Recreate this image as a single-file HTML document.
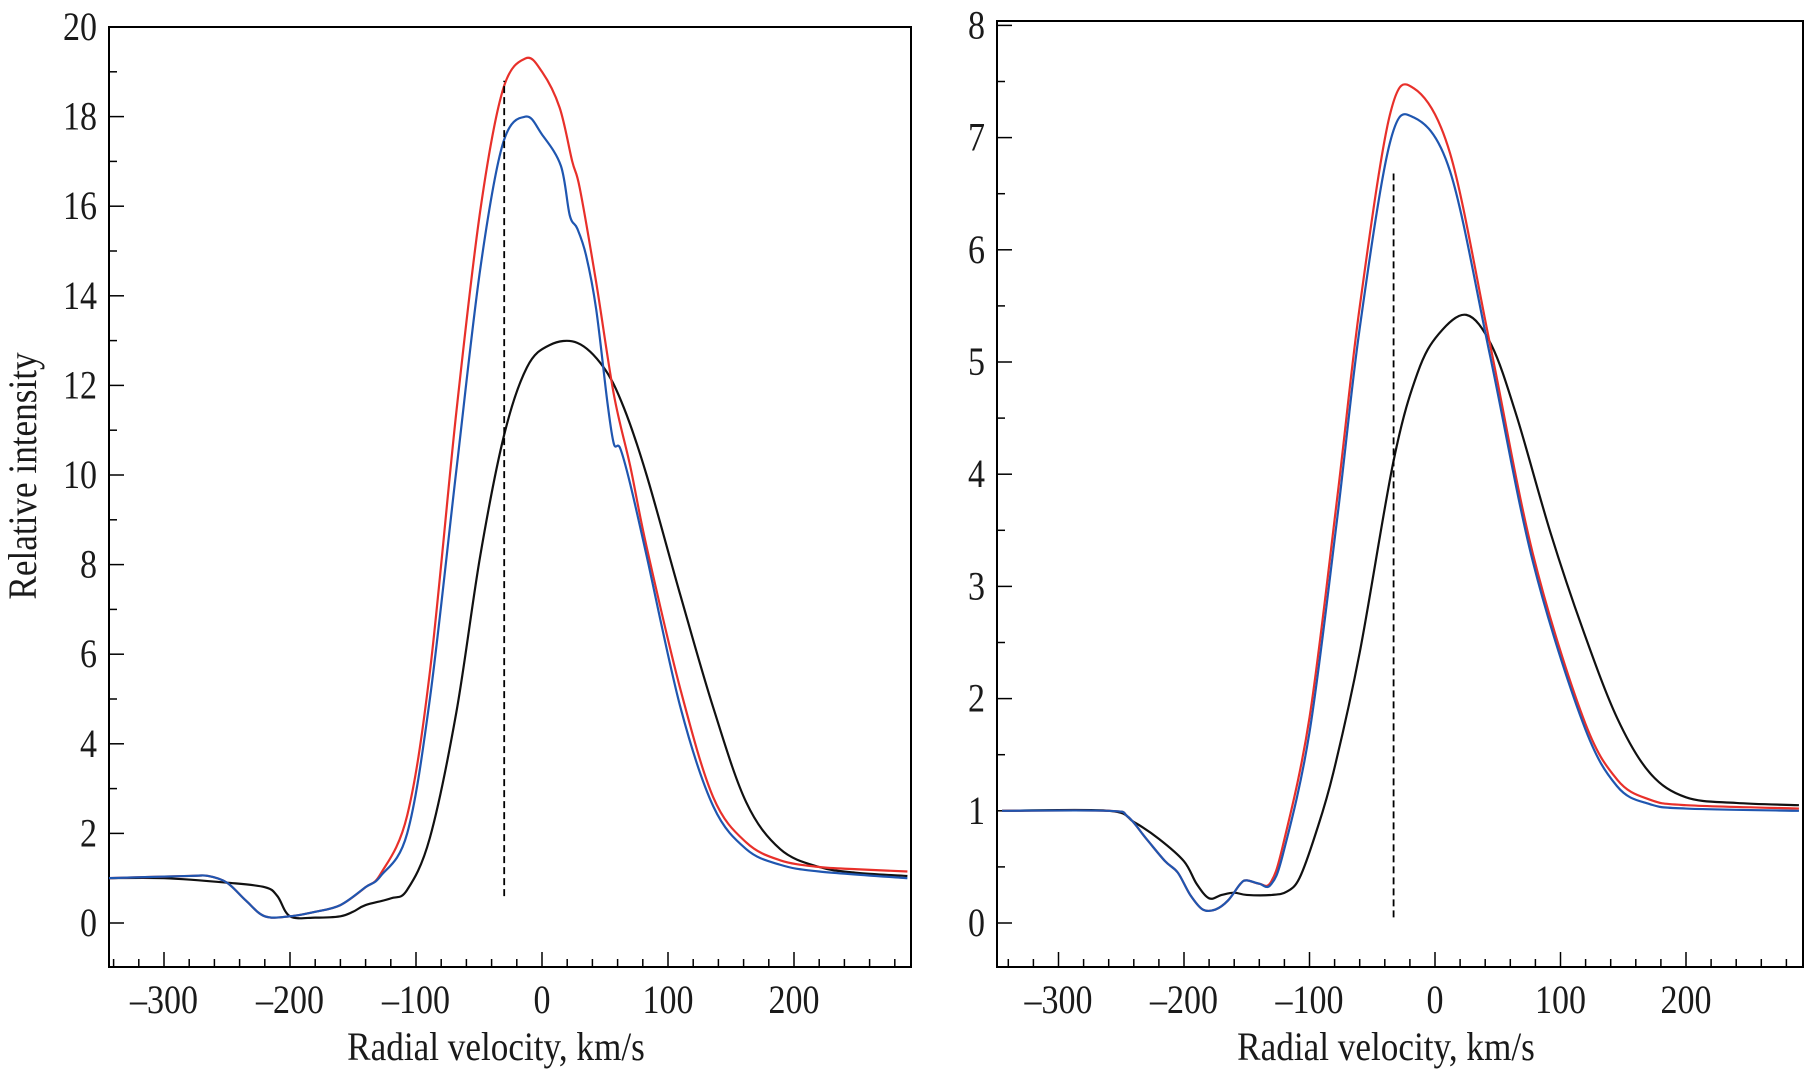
<!DOCTYPE html>
<html><head><meta charset="utf-8">
<style>
html,body{margin:0;padding:0;background:#fff;}
svg{display:block;font-family:"Liberation Serif",serif;}
</style></head>
<body>
<svg id="chart" width="1805" height="1074" viewBox="0 0 1805 1074"></svg>
<script>
const leftVel = {
 red:[-345,-280,-265,-250,-235,-220,-200,-180,-160,-140,-128,-107,-89,-68,-49,-31,-13,0,14,24,30,43,57,70,83,110,136,162,189,220,250,290],
 blue:[-345,-280,-265,-250,-235,-220,-200,-180,-160,-140,-128,-107,-89,-68,-49,-31,-13,0,15,22,28,35,43,52,57,62,70,83,110,136,162,189,220,290],
 black:[-345,-300,-250,-220,-210,-200,-180,-160,-150,-140,-120,-107,-89,-68,-49,-30,-12,6,28,49,65,83,110,136,162,189,220,250,290]
};
const leftInt = {
 red:[1,1.05,1.05,0.9,0.5,0.15,0.15,0.25,0.4,0.8,1.1,2.4,5.6,11.4,15.9,18.6,19.3,19.0,18.2,17.0,16.4,14.3,11.8,10.2,8.4,5.2,2.8,1.8,1.4,1.25,1.2,1.15],
 blue:[1,1.05,1.05,0.9,0.5,0.15,0.15,0.25,0.4,0.8,1.05,2.0,5.0,10.1,14.6,17.4,18.0,17.6,16.9,15.8,15.5,14.9,13.7,11.6,10.7,10.6,9.8,8.2,4.8,2.6,1.65,1.3,1.15,1.0],
 black:[1,1,0.9,0.8,0.6,0.15,0.12,0.15,0.25,0.4,0.55,0.74,1.9,4.7,8.2,10.9,12.4,12.9,12.95,12.4,11.5,10.0,7.3,4.8,2.7,1.65,1.25,1.12,1.05]
};
const rightVel = {
 red:[-345,-260,-245,-230,-215,-205,-195,-185,-175,-165,-155,-150,-140,-131,-121,-100,-78,-60,-36,-17,12,44,78,118,145,171,200,290],
 blue:[-345,-260,-245,-230,-215,-205,-195,-185,-175,-165,-155,-150,-140,-131,-121,-100,-78,-60,-36,-17,12,44,78,118,145,171,200,290],
 black:[-345,-260,-240,-220,-200,-190,-180,-170,-160,-150,-130,-118,-108,-95,-81,-60,-33,-14,3,25,45,65,92,118,145,171,200,240,290]
};
const rightInt = {
 red:[1,1,0.95,0.75,0.55,0.45,0.25,0.12,0.12,0.2,0.35,0.38,0.35,0.36,0.7,1.83,3.78,5.49,7.2,7.44,6.86,5.15,3.29,1.83,1.28,1.1,1.05,1.02],
 blue:[1,1,0.95,0.75,0.55,0.45,0.25,0.12,0.12,0.2,0.35,0.38,0.35,0.34,0.62,1.7,3.6,5.3,6.95,7.18,6.7,5.05,3.22,1.78,1.22,1.06,1.02,1.0],
 black:[1,1,0.9,0.75,0.55,0.35,0.22,0.25,0.27,0.25,0.25,0.28,0.4,0.8,1.34,2.41,4.12,4.9,5.25,5.42,5.15,4.52,3.48,2.61,1.83,1.34,1.12,1.07,1.05]
};
const xTicks = [-300,-200,-100,0,100,200];
const leftYTicks = [0,2,4,6,8,10,12,14,16,18,20];
const rightYTicks = [0,1,2,3,4,5,6,7,8];
const leftDash = {v:-30, y0:0.6, y1:18.8};
const rightDash = {v:-33, y0:0.05, y1:6.68};

const NS="http://www.w3.org/2000/svg";
const svg=document.getElementById('chart');
function mk(tag,attrs,parent){const e=document.createElementNS(NS,tag);for(const k in attrs)e.setAttribute(k,attrs[k]);(parent||svg).appendChild(e);return e;}

function panel(cfg){
 const g=mk('g',{});
 
 
 const xs=v=>cfg.x0+(v-0)*cfg.xppu;
 const ys=v=>cfg.yZero-v*cfg.yppu;
 const frame=mk('rect',{x:cfg.L,y:cfg.T,width:cfg.R-cfg.L,height:cfg.B-cfg.T,fill:'none',stroke:'#000','stroke-width':2},g);
 
 
 for(let v=-340;v<=280;v+=20){
  const px=xs(v); if(px<cfg.L+2||px>cfg.R-2) continue;
  const major=v%100===0;
  const t=mk('line',{x1:px,x2:px,y1:cfg.B,y2:cfg.B-(major?15:8),stroke:'#000','stroke-width':1.5},g);
  
  
 }
 xTicks.forEach(v=>{
  const t=mk('text',{x:0,y:0,'font-size':40,'text-anchor':'middle',fill:'#1a1a1a',transform:`translate(${xs(v)},1013) scale(0.85,1)`},g);
  t.textContent=(v<0?'\u2013'+(-v):''+v);
  
  
 });
 const yt=cfg.yTicks, step=yt[1]-yt[0];
 for(let v=yt[0]-step/2; v<=yt[yt.length-1]; v+=step/2){
  const py=ys(v); if(py>cfg.B-2||py<cfg.T+2) continue;
  const major=Math.abs(v/step-Math.round(v/step))<1e-6;
  const t=mk('line',{x1:cfg.L,x2:cfg.L+(major?15:8),y1:py,y2:py,stroke:'#000','stroke-width':1.5},g);
  
  
 }
 yt.forEach(v=>{
  const t=mk('text',{x:0,y:0,'font-size':40,'text-anchor':'end',fill:'#1a1a1a',transform:`translate(${cfg.L-12},${ys(v)+13}) scale(0.85,1)`},g);
  t.textContent=''+v;
  
  
 });
 const xt=mk('text',{x:0,y:0,'font-size':40,'text-anchor':'middle',fill:'#1a1a1a',transform:`translate(${(cfg.L+cfg.R)/2-14},1060) scale(0.88,1)`},g);
 xt.textContent='Radial velocity, km/s';
 
 
 const cp=mk('clipPath',{id:cfg.name+'-clip'},g);
 mk('rect',{x:cfg.L,y:cfg.T,width:cfg.R-cfg.L,height:cfg.B-cfg.T},cp);
 const colors={black:'#111',red:'#e8302a',blue:'#1f56b0'};
 ['black','red','blue'].forEach(s=>{
  const vx=cfg.vel[s], vi=cfg.int[s];
  const pts=vx.map((v,i)=>[xs(v),ys(vi[i])]);
  let d='M'+pts[0][0]+','+pts[0][1];
  for(let i=0;i<pts.length-1;i++){
   const p0=pts[Math.max(0,i-1)],p1=pts[i],p2=pts[i+1],p3=pts[Math.min(pts.length-1,i+2)];
   const c1=[p1[0]+(p2[0]-p0[0])/6,p1[1]+(p2[1]-p0[1])/6];
   const c2=[p2[0]-(p3[0]-p1[0])/6,p2[1]-(p3[1]-p1[1])/6];
   d+=` C${c1[0]},${c1[1]} ${c2[0]},${c2[1]} ${p2[0]},${p2[1]}`;
  }
  const p=mk('path',{d:d,fill:'none',stroke:colors[s],'stroke-width':2.2,'clip-path':`url(#${cfg.name}-clip)`},g);
  
  
 });
 const dl=mk('line',{x1:xs(cfg.dash.v),x2:xs(cfg.dash.v),y1:ys(cfg.dash.y0),y2:ys(cfg.dash.y1),stroke:'#000','stroke-width':1.8,'stroke-dasharray':'7,4'},g);
 
 
}

panel({name:'left-panel',L:109,R:911,T:27,B:967,x0:542,xppu:1.26,yZero:923,yppu:44.8,yTicks:leftYTicks,vel:leftVel,int:leftInt,dash:leftDash});
panel({name:'right-panel',L:997,R:1803,T:21,B:967,x0:1435,xppu:1.255,yZero:923,yppu:112.2,yTicks:rightYTicks,vel:rightVel,int:rightInt,dash:rightDash});

const yl=mk('text',{x:0,y:0,'font-size':40,'text-anchor':'middle',fill:'#1a1a1a',transform:'translate(36,476) rotate(-90) scale(0.88,1)'});
yl.textContent='Relative intensity';


</script>
</body></html>
